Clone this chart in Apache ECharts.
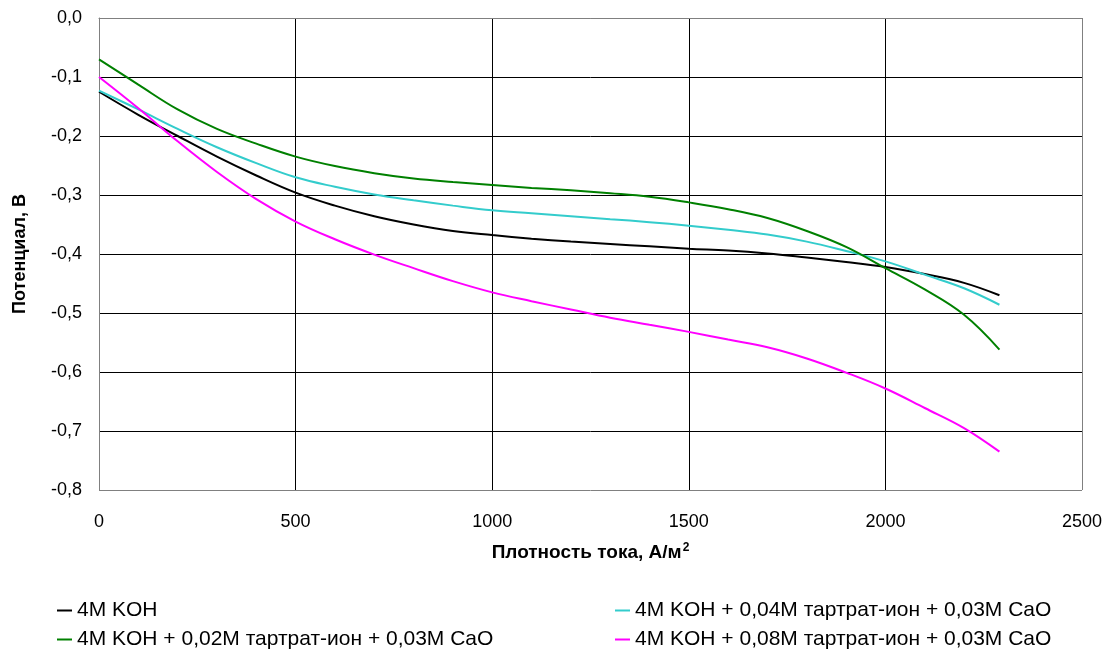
<!DOCTYPE html>
<html>
<head>
<meta charset="utf-8">
<script src="https://cdn.jsdelivr.net/npm/echarts@6/dist/echarts.min.js"></script>
<style>
  html, body { margin: 0; padding: 0; background: #fff; }
  #chart { width: 1107px; height: 649px; }
</style>
</head>
<body>
<div id="chart"></div>
<script>
const density = [0, 100, 200, 300, 400, 500, 600, 700, 800, 900, 1000, 1100, 1200, 1300, 1400, 1500, 1600, 1700, 1800, 1900, 2000, 2100, 2200, 2290]

const koh = [-0.125, -0.164, -0.2, -0.235, -0.267, -0.296, -0.318, -0.336, -0.35, -0.361, -0.368, -0.374, -0.379, -0.383, -0.387, -0.391, -0.394, -0.399, -0.406, -0.4135, -0.422, -0.434, -0.449, -0.47]
const tart004 = [-0.123, -0.155, -0.188, -0.219, -0.246, -0.27, -0.286, -0.299, -0.309, -0.318, -0.326, -0.331, -0.336, -0.341, -0.346, -0.352, -0.359, -0.367, -0.379, -0.395, -0.4125, -0.435, -0.458, -0.486]
const tart002 = [-0.07, -0.113, -0.155, -0.188, -0.213, -0.235, -0.251, -0.263, -0.272, -0.278, -0.283, -0.288, -0.292, -0.297, -0.303, -0.3125, -0.324, -0.339, -0.361, -0.388, -0.424, -0.46, -0.503, -0.562]
const tart008 = [-0.1, -0.153, -0.209, -0.261, -0.307, -0.345, -0.375, -0.401, -0.424, -0.446, -0.465, -0.48, -0.494, -0.508, -0.52, -0.532, -0.545, -0.558, -0.577, -0.601, -0.628, -0.661, -0.695, -0.735]

const names = [
    '4M KOH',
    '4M KOH + 0,04M тартрат-ион + 0,03M CaO',
    '4M KOH + 0,02M тартрат-ион + 0,03M CaO',
    '4M KOH + 0,08M тартрат-ион + 0,03M CaO'
]

function pairs(values) {
    return density.map((x, i) => [x, values[i]])
}

const font = 'Liberation Sans, Arial, sans-serif'
const chart = echarts.init(document.getElementById('chart'))

const lineSeries = (name, values, color) => ({
    name: name,
    type: 'line',
    data: pairs(values),
    smooth: 0.4,
    showSymbol: false,
    lineStyle: { color: color, width: 2 },
    itemStyle: { color: color }
})

const legendCommon = {
    orient: 'vertical',
    icon: 'rect',
    itemWidth: 15,
    itemHeight: 2,
    itemGap: 8,
    padding: 0,
    height: 80,
    textStyle: { fontFamily: font, fontSize: 21, lineHeight: 20, color: '#000' }
}

// frame lines grey, inner grid lines black
const frame = '#808080'

chart.setOption({
    animation: false,
    textStyle: { fontFamily: font },
    grid: { left: 99, top: 18, right: 25, bottom: 159 },
    legend: [
        Object.assign({ left: 57, top: 600, data: [names[0], names[2]] }, legendCommon),
        Object.assign({ left: 615, top: 600, data: [names[1], names[3]] }, legendCommon)
    ],
    xAxis: {
        type: 'value',
        min: 0,
        max: 2500,
        interval: 500,
        name: '{t|Плотность тока, А/м}{s|2}',
        nameLocation: 'middle',
        nameGap: 52,
        nameTextStyle: {
            rich: {
                t: { fontFamily: font, fontSize: 19, fontWeight: 'bold', color: '#000' },
                s: { fontFamily: font, fontSize: 12, fontWeight: 'bold', color: '#000', verticalAlign: 'top', padding: [0, 0, 10, 1] }
            }
        },
        axisLine: { lineStyle: { color: frame, width: 1 } },
        axisTick: { show: false },
        axisLabel: { fontSize: 18, color: '#000', margin: 23, formatter: v => String(v) },
        splitLine: { show: true, lineStyle: { color: [frame, '#000', '#000', '#000', '#000', frame], width: 1 } }
    },
    yAxis: {
        type: 'value',
        min: -0.8,
        max: 0,
        interval: 0.1,
        name: 'Потенциал, В',
        nameLocation: 'middle',
        nameGap: 70,
        nameTextStyle: { fontFamily: font, fontSize: 18, fontWeight: 'bold', color: '#000' },
        axisLine: { show: true, lineStyle: { color: frame, width: 1 } },
        axisTick: { show: false },
        axisLabel: {
            fontSize: 18,
            color: '#000',
            margin: 17,
            formatter: v => v.toFixed(1).replace('.', ',')
        },
        splitLine: { show: true, lineStyle: { color: [frame, '#000', '#000', '#000', '#000', '#000', '#000', '#000', frame], width: 1 } }
    },
    series: [
        lineSeries(names[0], koh, '#000000'),
        lineSeries(names[1], tart004, '#33CCCC'),
        lineSeries(names[2], tart002, '#008000'),
        lineSeries(names[3], tart008, '#FF00FF')
    ]
})
</script>
</body>
</html>
